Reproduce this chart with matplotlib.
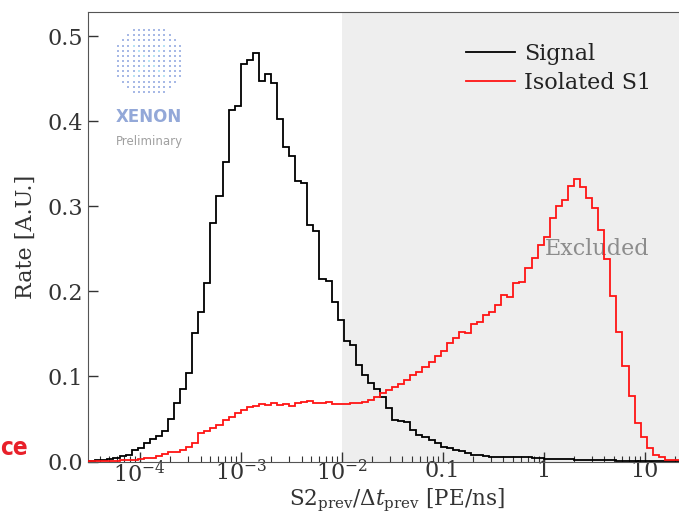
import numpy as np
import matplotlib
matplotlib.use("Agg")
import matplotlib.pyplot as plt
from matplotlib.ticker import LogLocator, NullFormatter

plt.rcParams["font.family"] = ["DejaVu Serif"]
plt.rcParams["mathtext.fontset"] = "dejavuserif"

# Logarithmic binning of S2_prev / dt_prev [PE/ns]
bin_edges = np.logspace(-4.5, 1.5, 101)

signal = [
    0.001, 0.0015, 0.0015, 0.003, 0.004, 0.0065, 0.0076, 0.0135, 0.0155, 0.0214,
    0.026, 0.030, 0.0362, 0.0496, 0.0685, 0.085, 0.1045, 0.151, 0.176, 0.210,
    0.281, 0.312, 0.352, 0.4135, 0.418, 0.468, 0.472, 0.481, 0.4476, 0.4555,
    0.445, 0.4026, 0.370, 0.359, 0.330, 0.327, 0.278, 0.2715, 0.215, 0.212,
    0.187, 0.1665, 0.142, 0.137, 0.1135, 0.1018, 0.0927, 0.085, 0.0763, 0.0626,
    0.049, 0.048, 0.046, 0.037, 0.031, 0.029, 0.0253, 0.022, 0.0174, 0.016,
    0.013, 0.012, 0.0104, 0.0076, 0.0076, 0.007, 0.0056, 0.0058, 0.0052, 0.0056,
    0.005, 0.0048, 0.005, 0.0045, 0.004, 0.0026, 0.0028, 0.0025, 0.0027, 0.0024,
    0.0022, 0.002, 0.0018, 0.0015, 0.0014, 0.0012, 0.0012, 0.001, 0.001, 0.0009,
    0.0008, 0.0008, 0.0007, 0.0006, 0.0005, 0.0005, 0.0004, 0.0003, 0.0003, 0.0002,
]

isolated_s1 = [
    0.001, 0.001, 0.001, 0.001, 0.001, 0.0015, 0.0015, 0.0015, 0.0025, 0.0037,
    0.0045, 0.0065, 0.0088, 0.011, 0.0115, 0.0135, 0.0174, 0.0214, 0.034, 0.036,
    0.039, 0.043, 0.0488, 0.0527, 0.0567, 0.0606, 0.0638, 0.0653, 0.0676, 0.066,
    0.0692, 0.0665, 0.0676, 0.0653, 0.0684, 0.0704, 0.0715, 0.0692, 0.0684, 0.0704,
    0.0676, 0.0676, 0.0676, 0.0684, 0.0684, 0.070, 0.0724, 0.0763, 0.080, 0.084,
    0.0873, 0.0912, 0.0959, 0.1018, 0.1056, 0.1115, 0.1174, 0.1241, 0.1304, 0.139,
    0.145, 0.1527, 0.151, 0.1618, 0.1645, 0.1724, 0.1762, 0.1841, 0.1959, 0.1939,
    0.2104, 0.2115, 0.2273, 0.239, 0.2547, 0.2645, 0.2861, 0.3006, 0.3076, 0.3241,
    0.332, 0.3233, 0.3096, 0.2979, 0.2724, 0.2379, 0.1947, 0.1527, 0.1124, 0.077,
    0.045, 0.0285, 0.0155, 0.0076, 0.005, 0.0018, 0.0018, 0.0015, 0.0012, 0.001,
]

series_labels = ["Signal", "Isolated S1"]
xtick_values = [1e-4, 1e-3, 1e-2, 0.1, 1, 10]
xtick_labels = [r"$10^{-4}$", r"$10^{-3}$", r"$10^{-2}$", "0.1", "1", "10"]
ytick_values = [0.0, 0.1, 0.2, 0.3, 0.4, 0.5]
ytick_labels = ["0.0", "0.1", "0.2", "0.3", "0.4", "0.5"]
excluded_from = 1e-2

W, H = 679, 517
fig = plt.figure(figsize=(W / 100, H / 100), dpi=100)
ax = fig.add_axes([88 / W, 1 - 461.5 / H, 1 - 88 / W, (461.5 - 11.7) / H])

xmin, xmax = 10 ** -4.512, 10 ** 1.34
ax.axvspan(excluded_from, xmax, color="#eeeeee", lw=0, zorder=0)

ax.stairs(signal, bin_edges, color="black", lw=1.3, label=series_labels[0], zorder=3)
ax.stairs(isolated_s1, bin_edges, color="#ff1414", lw=1.3, label=series_labels[1], zorder=3)

ax.set_xscale("log")
ax.set_xlim(xmin, xmax)
ax.set_ylim(0, 0.529)
ax.set_xticks(xtick_values)
ax.set_xticklabels(xtick_labels)
ax.xaxis.set_minor_locator(LogLocator(base=10, subs=np.arange(2, 10)))
ax.xaxis.set_minor_formatter(NullFormatter())
ax.set_yticks(ytick_values)
ax.set_yticklabels(ytick_labels)

ax.tick_params(which="both", direction="in", labelsize=16, colors="#333333",
               labelcolor="#333333")
ax.tick_params(which="major", length=7, width=1)
ax.tick_params(which="minor", length=4, width=0.8)
ax.tick_params(axis="x", which="major", pad=-1)
for side in ["left", "top", "bottom"]:
    ax.spines[side].set_color("#555555")
ax.spines["right"].set_visible(False)

ax.set_xlabel(r"S2$_\mathrm{prev}$/$\Delta t_\mathrm{prev}$ [PE/ns]", fontsize=15.5,
              color="#333333")
ax.xaxis.set_label_coords((397 - 88) / (W - 88), -(500 - 461.5) / (461.5 - 11.7))
ax.xaxis.label.set_va("center")
ax.set_ylabel("Rate [A.U.]", fontsize=16, color="#333333", labelpad=8)

ax.text(1.03, 0.25, "Excluded", fontsize=16, color="#8c8c8c", ha="left", va="center",
        zorder=2)

leg = ax.legend(loc="upper left", bbox_to_anchor=(466 / W, 1 - 43 / H),
                bbox_transform=fig.transFigure, frameon=False, fontsize=16,
                handlelength=2.2, handletextpad=0.4, labelspacing=0.3,
                borderpad=0, borderaxespad=0)
for t in leg.get_texts():
    t.set_color("#222222")

# XENON logo: dotted disc with name and status underneath
cx, cy, r = 149, 61, 36
lax = fig.add_axes([(cx - r) / W, 1 - (cy + r) / H, 2 * r / W, 2 * r / H])
lax.set_xlim(-1, 1)
lax.set_ylim(-1, 1)
lax.axis("off")
g = np.linspace(-1, 1, 15)
gx, gy = np.meshgrid(g, g)
inside = gx ** 2 + gy ** 2 <= 0.95
px, py = gx[inside], gy[inside]
hl = ((np.abs(px - py) < 0.1) | (np.abs(px + py) < 0.1)) & (px ** 2 + py ** 2 < 0.55)
lax.scatter(px[~hl], py[~hl], s=4.5, marker="s", color="#a7b9e6", lw=0)
lax.scatter(px[hl], py[hl], s=4.5, marker="s", color="#b8e3f5", lw=0)

fig.text(cx / W, 1 - 117 / H, "XENON", fontsize=12, fontweight="bold",
         color="#93a8d8", ha="center", va="center", family=["DejaVu Sans"])
fig.text(cx / W, 1 - 141 / H, "Preliminary", fontsize=8.5, color="#a0a0a0",
         ha="center", va="center", family=["DejaVu Sans"])

fig.text(0.5 / W, 1 - 448 / H, "ce", fontsize=17.5, fontweight="bold",
         fontstretch="condensed", color="#e8202a", ha="left", va="center",
         family=["DejaVu Sans"])

fig.savefig("out.png", dpi=100)
